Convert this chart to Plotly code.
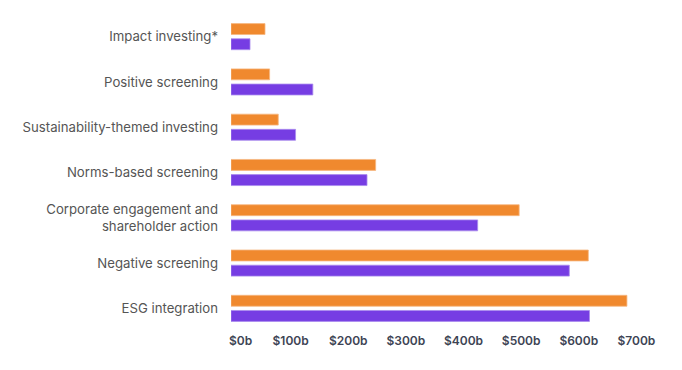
import plotly.graph_objects as go

categories = [
    "Impact investing*",
    "Positive screening",
    "Sustainability-themed investing",
    "Norms-based screening",
    "Corporate engagement and<br>shareholder action",
    "Negative screening",
    "ESG integration",
]
series_orange = [59, 67, 82, 251, 500, 620, 687]
series_purple = [33, 142, 112, 236, 428, 587, 622]
tick_values = [0, 100, 200, 300, 400, 500, 600, 700]
tick_labels = ["$0b", "$100b", "$200b", "$300b", "$400b", "$500b", "$600b", "$700b"]

ORANGE = "#F0892E"
PURPLE = "#763DE3"

# first label sits flush with the axis start, as in the reference
tick_text = ["\u00a0" * 5 + tick_labels[0]] + tick_labels[1:]

fig = go.Figure()
fig.add_trace(go.Bar(
    y=categories, x=series_orange, orientation="h", name="Series 1",
    marker=dict(color=ORANGE, line=dict(color="#F6B882", width=0.8)),
))
fig.add_trace(go.Bar(
    y=categories, x=series_purple, orientation="h", name="Series 2",
    marker=dict(color=PURPLE, line=dict(color="#A98BEE", width=0.8)),
))

fig.update_layout(
    width=674, height=362,
    margin=dict(l=223, r=13, t=6, b=39),
    paper_bgcolor="white", plot_bgcolor="white",
    barmode="group", bargap=0.33, bargroupgap=0.28,
    showlegend=False,
    font=dict(family="Inter, sans-serif"),
)
fig.update_xaxes(
    range=[0, 760], tickvals=tick_values, ticktext=tick_text,
    showgrid=False, zeroline=False, showline=False, automargin=False,
    tickfont=dict(size=12, color="#3D4454", family="Inter, sans-serif", weight=600),
    ticklabelstandoff=1, ticklabelshift=2,
)
fig.update_yaxes(
    autorange="reversed", showgrid=False, zeroline=False, showline=False, automargin=False,
    tickfont=dict(size=13.2, color="#555555", family="Inter, sans-serif"),
    ticklabelstandoff=12,
)

fig.write_html("out.html")
